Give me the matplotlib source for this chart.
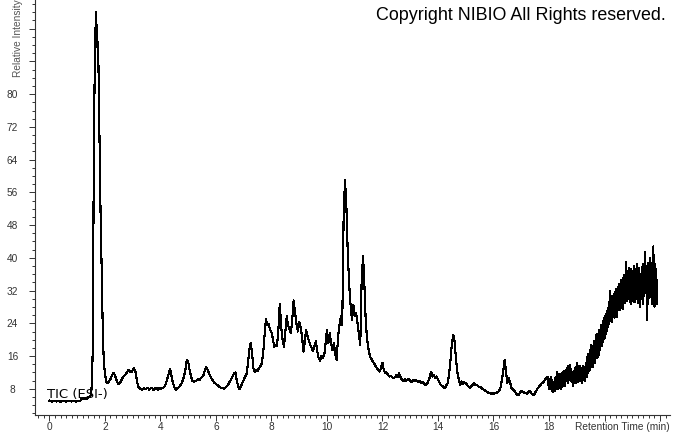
import numpy as np
import matplotlib
matplotlib.use("Agg")
import matplotlib.pyplot as plt
from matplotlib.ticker import MultipleLocator, FixedLocator, FixedFormatter

# ---------------- data ----------------
# Each segment: start time (min), sampling step (min), relative intensities
baseline_start, baseline_step = 0.00, 0.05
baseline_int = [5.1, 5.0, 4.9, 5.0, 5.1, 4.9, 5.0, 5.0, 4.8, 5.0,
                5.1, 5.0, 4.9, 5.0, 5.0, 5.1, 4.9, 5.0, 5.0, 4.9,
                5.0, 5.1, 5.0, 5.5, 5.7, 5.4, 5.8, 5.6, 5.9, 6.1]

peak_start, peak_step = 1.50, 0.02
peak_int = [6.5, 8.5, 12.0, 17.5, 40.0, 68.0, 80.0, 90.0, 96.0, 100.0,
            92.0, 97.0, 89.0, 90.0, 80.0, 70.0, 62.0, 52.0, 44.0, 38.0,
            30.0, 23.0, 18.0, 15.0, 13.0, 11.8, 10.8, 10.0, 9.6, 9.5]

early_start, early_step = 2.10, 0.05
early_int = [9.4, 9.8, 10.4, 11.2, 11.9, 11.5, 10.5, 9.6, 9.1, 9.5,
             10.2, 10.8, 11.2, 11.6, 12.1, 12.6, 12.3, 12.0, 12.5, 13.0,
             12.2, 10.0, 8.5, 8.1, 8.0, 7.8, 8.2, 7.9, 8.1, 8.3,
             7.8, 8.1, 8.2, 7.7, 8.0, 8.3, 7.8, 8.2, 7.9, 8.3,
             8.3, 8.6, 9.4, 10.5, 11.8, 12.9, 11.0, 9.5, 8.4, 7.8,
             8.1, 8.3, 8.6, 9.2, 10.0, 11.0, 12.8, 15.0, 14.6, 12.6,
             11.0, 10.0, 9.7, 9.9, 10.0, 10.3, 10.1, 10.6, 10.9, 11.3,
             12.5, 13.3, 12.6, 11.8, 11.0, 10.4, 9.9, 9.4, 9.2, 8.9,
             8.6, 8.4, 8.2, 8.3, 8.0, 8.4, 8.7, 9.2, 9.8, 10.4,
             11.0, 11.8, 12.0, 10.0, 8.6, 7.9, 8.7, 9.4, 10.2, 10.9]

mid_start, mid_step = 7.10, 0.05
mid_int = [11.6, 14.0, 17.5, 19.2, 16.8, 13.0, 12.2, 12.7, 12.4, 13.0,
           13.5, 14.2, 16.5, 21.0, 25.0, 23.5, 23.8, 22.4, 21.8, 20.2,
           18.3, 18.8, 18.4, 22.5, 28.8, 23.2, 20.0, 18.3, 22.0, 25.7,
           23.5, 22.6, 21.6, 25.0, 29.6, 26.5, 24.0, 22.0, 24.4, 23.0,
           21.0, 17.1, 19.5, 22.4, 20.8, 19.8, 18.7, 18.0, 17.2, 18.4,
           19.6, 17.2, 15.5, 14.9, 16.0, 15.6, 16.2, 19.0, 22.4, 19.2,
           21.6, 19.0, 17.5, 19.2, 16.5, 15.1, 20.8, 23.5, 25.7, 23.5,
           50.0, 59.1, 52.5, 41.0, 33.5, 28.5, 24.8, 28.5, 25.7, 26.5,
           24.0, 21.5, 18.7, 34.6, 40.5, 33.0, 24.0, 20.0, 17.5, 15.9,
           15.3, 14.7, 14.2, 13.6, 13.0, 12.6, 12.2, 13.2, 14.3, 12.5]

late_start, late_step = 12.10, 0.05
late_int = [11.8, 12.0, 11.4, 11.0, 11.2, 10.8, 10.6, 10.9, 11.3, 10.8,
            11.8, 10.9, 10.2, 9.8, 10.3, 9.9, 10.2, 10.4, 10.0, 9.7,
            10.1, 9.8, 10.2, 9.8, 9.6, 10.0, 9.4, 9.7, 9.2, 9.0,
            9.2, 9.8, 10.8, 12.2, 11.0, 11.4, 10.6, 11.0, 10.2, 9.6,
            9.0, 8.7, 8.4, 8.2, 8.9, 9.4, 11.5, 15.0, 19.0, 21.2,
            19.6, 15.0, 12.0, 10.2, 9.0, 9.8, 9.3, 9.6, 9.4, 8.9,
            8.6, 8.2, 8.7, 9.0, 9.3, 8.9, 9.0, 8.6, 8.5, 8.3,
            8.0, 7.8, 7.5, 7.3, 7.1, 7.0, 6.8, 7.0, 6.8, 7.0,
            7.0, 7.2, 7.5, 8.2, 10.0, 12.2, 15.1, 12.2, 9.4, 10.6,
            9.5, 8.2, 7.8, 7.5, 7.0, 6.6, 6.5, 6.9, 7.5, 7.3,
            7.1, 7.0, 6.8, 7.1, 7.5, 7.0, 6.6, 6.5, 7.0, 7.6,
            8.2, 8.6, 9.0, 9.4, 9.6, 10.2, 10.6, 10.9]

tail_start, tail_step = 18.00, 0.02
tail_int = [8.0, 10.4, 7.9, 10.8, 8.6, 7.5, 10.2, 7.8, 7.2, 9.6,
            7.4, 10.0, 11.0, 8.0, 12.2, 8.8, 11.4, 8.0, 10.6, 11.6,
            8.6, 7.9, 11.2, 8.4, 12.0, 9.4, 8.6, 12.4, 9.8, 8.8,
            12.6, 9.8, 13.2, 10.2, 9.4, 13.6, 10.6, 13.8, 11.4, 9.8,
            12.8, 9.6, 12.2, 8.8, 11.6, 12.4, 9.4, 13.2, 9.4, 11.8,
            14.2, 10.2, 13.4, 9.6, 12.6, 13.6, 9.8, 12.8, 10.4, 13.2,
            9.4, 12.4, 13.6, 10.2, 13.0, 10.0, 11.8, 14.2, 11.0, 15.2,
            16.4, 11.8, 16.0, 12.4, 17.4, 13.2, 18.8, 14.4, 17.8, 13.4,
            18.6, 15.6, 19.8, 14.2, 19.2, 21.2, 15.6, 21.4, 17.0, 15.8,
            20.6, 22.4, 17.4, 21.8, 23.6, 18.4, 23.2, 19.4, 24.6, 20.2,
            25.4, 20.4, 26.4, 21.4, 27.0, 22.2, 27.8, 23.0, 29.2, 24.4,
            32.0, 25.0, 30.4, 24.2, 30.6, 26.0, 29.2, 31.2, 25.4, 31.6,
            26.8, 32.4, 27.4, 25.6, 32.8, 28.0, 33.6, 27.2, 32.0, 27.8,
            34.6, 28.6, 33.4, 27.6, 35.2, 29.6, 35.8, 29.0, 34.0, 39.1,
            35.2, 29.4, 36.6, 30.4, 37.6, 29.8, 35.8, 28.6, 37.2, 31.4,
            29.4, 36.8, 30.8, 38.0, 29.2, 35.6, 29.8, 34.8, 38.4, 30.4,
            36.5, 29.0, 37.4, 31.4, 28.1, 36.0, 30.0, 37.8, 32.2, 28.8,
            38.6, 30.6, 36.6, 41.5, 31.4, 38.0, 29.6, 24.8, 35.2, 38.8,
            30.2, 36.9, 40.0, 30.4, 38.2, 28.6, 36.4, 40.6, 42.8, 31.6,
            28.1, 38.5, 30.8, 37.2, 28.6, 34.6]

segments = [(baseline_start, baseline_step, baseline_int),
            (peak_start, peak_step, peak_int),
            (early_start, early_step, early_int),
            (mid_start, mid_step, mid_int),
            (late_start, late_step, late_int),
            (tail_start, tail_step, tail_int)]

x_tick_values = [0, 2, 4, 6, 8, 10, 12, 14, 16, 18, 20, 22]
x_tick_labels = ["0", "2", "4", "6", "8", "10", "12", "14", "16", "18", "", ""]
y_tick_values = [8, 16, 24, 32, 40, 48, 56, 64, 72, 80, 88, 96]
y_tick_labels = ["8", "16", "24", "32", "40", "48", "56", "64", "72", "80", "", ""]

# ---------------- build series ----------------
times, values = [], []
for start, step, vals in segments:
    times.append(start + step * np.arange(len(vals)))
    values.append(np.asarray(vals, dtype=float))
rt = np.concatenate(times)
inten = np.concatenate(values)

# ---------------- figure ----------------
W, H = 673, 433
fig = plt.figure(figsize=(W / 100, H / 100), dpi=100)
ax = fig.add_axes([35 / W, 1 - 415 / H, (670 - 35) / W, 415 / H])

ax.plot(rt, inten, color="black", lw=0.8, antialiased=False)

ax.set_xlim(-0.52, 22.36)
ax.set_ylim(1.6, 103.0)

for s in ("top", "right"):
    ax.spines[s].set_visible(False)
for s in ("left", "bottom"):
    ax.spines[s].set_color("#333333")
    ax.spines[s].set_linewidth(0.8)

ax.xaxis.set_major_locator(FixedLocator(x_tick_values))
ax.xaxis.set_major_formatter(FixedFormatter(x_tick_labels))
ax.xaxis.set_minor_locator(MultipleLocator(0.2))
ax.yaxis.set_major_locator(FixedLocator(y_tick_values))
ax.yaxis.set_major_formatter(FixedFormatter(y_tick_labels))
ax.yaxis.set_minor_locator(MultipleLocator(2))

ax.tick_params(axis="both", which="major", length=4.3, width=0.7, color="#333333",
               labelcolor="#333333", labelsize=7.3)
ax.tick_params(axis="both", which="minor", length=2.2, width=0.7, color="#333333")
ax.tick_params(axis="x", which="major", pad=0.6)
ax.tick_params(axis="y", which="major", pad=11.9)
for lab in ax.get_xticklabels():
    lab.set_fontfamily("Liberation Sans")
for lab in ax.get_yticklabels():
    lab.set_fontfamily("Liberation Sans")
    lab.set_horizontalalignment("center")

fig.text(666 / W, 1 - 20.5 / H, "Copyright NIBIO All Rights reserved.",
         ha="right", va="baseline", fontsize=12.9, family="Liberation Sans",
         color="black")
fig.text(670 / W, 1 - 430.5 / H, "Retention Time (min)", ha="right",
         va="baseline", fontsize=7.3, family="Liberation Sans", color="#333333")
fig.text(18 / W, 1 - 77 / H, "Relative Intensity", rotation=90, ha="center",
         va="bottom", fontsize=7.3, family="Liberation Sans", color="#555555")
fig.text(47 / W, 1 - 398 / H, "TIC (ESI-)", ha="left", va="baseline",
         fontsize=9.5, family="DejaVu Sans", color="black")

fig.savefig("out.png", dpi=100)
